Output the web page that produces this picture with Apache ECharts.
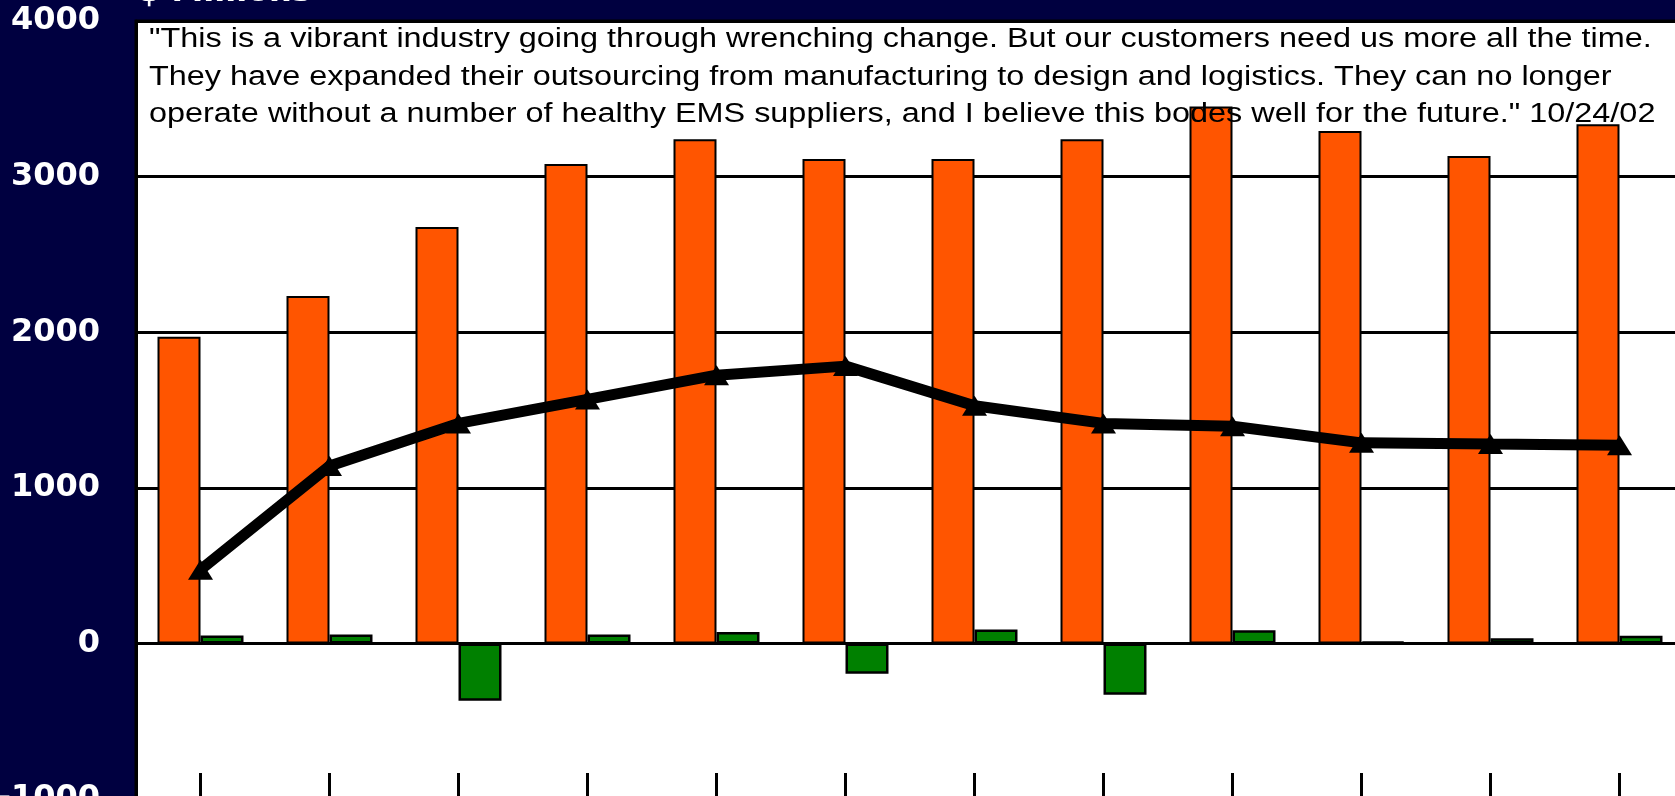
<!DOCTYPE html>
<html>
<head>
<meta charset="utf-8">
<script src="https://cdn.jsdelivr.net/npm/echarts@6/dist/echarts.min.js"></script>
<style>
html, body { margin: 0; padding: 0; background: #000040; }
#main { width: 1675px; height: 796px; }
</style>
</head>
<body>
<div id="main"></div>
<script>
// quarterly figures, $ Millions (category names are not shown on the chart)
var quarters = ['Q4 99', 'Q1 00', 'Q2 00', 'Q3 00', 'Q4 00', 'Q1 01', 'Q2 01', 'Q3 01', 'Q4 01', 'Q1 02', 'Q2 02', 'Q3 02'];
var revenue = [1970, 2233, 2676, 3081, 3240, 3113, 3113, 3240, 3450, 3293, 3132, 3336];
var netIncome = [51, 58, -368, 58, 73, -195, 90, -330, 84, 10, 33, 49];
var lineValues = [473, 1140, 1414, 1568, 1724, 1782, 1527, 1414, 1396, 1289, 1281, 1274];
var yTicks = [-1000, 0, 1000, 2000, 3000, 4000];

var quoteLines = [
    '"This is a vibrant industry going through wrenching change. But our customers need us more all the time.',
    'They have expanded their outsourcing from manufacturing to design and logistics. They can no longer',
    'operate without a number of healthy EMS suppliers, and I believe this bodes well for the future." 10/24/02'
];

var myChart = echarts.init(document.getElementById('main'));

var option = {
    animation: false,
    backgroundColor: '#000040',
    grid: {
        show: true,
        left: 136,
        top: 21,
        width: 1548,
        height: 778,
        outerBoundsMode: 'none',
        containLabel: false,
        backgroundColor: '#ffffff',
        borderColor: '#000000',
        borderWidth: 3
    },
    xAxis: {
        type: 'category',
        data: quarters,
        axisLine: { show: false, onZero: false },
        axisTick: {
            show: true,
            inside: true,
            length: 26,
            alignWithLabel: true,
            lineStyle: { color: '#000', width: 3 }
        },
        axisLabel: { show: false }
    },
    yAxis: {
        type: 'value',
        min: yTicks[0],
        max: yTicks[yTicks.length - 1],
        interval: 1000,
        axisLine: { show: true, lineStyle: { color: '#000', width: 3 } },
        axisTick: { show: false },
        splitLine: { lineStyle: { color: '#000', width: 3 } },
        axisLabel: {
            color: '#ffffff',
            fontFamily: 'DejaVu Sans',
            fontWeight: 'bold',
            fontSize: 32,
            margin: 36,
            formatter: function (v) { return String(v); }
        }
    },
    series: [{
        type: 'bar',
        name: 'Revenue',
        data: revenue,
        barWidth: 43,
        barGap: '0%',
        itemStyle: { color: '#ff5500', borderColor: '#000', borderWidth: 2 }
    }, {
        type: 'bar',
        name: 'Net income',
        data: netIncome,
        barWidth: 43,
        barGap: '0%',
        itemStyle: { color: '#008000', borderColor: '#000', borderWidth: 2.5 }
    }, {
        type: 'line',
        name: 'Line',
        data: lineValues,
        z: 5,
        symbol: 'triangle',
        symbolSize: [25, 20],
        itemStyle: { color: '#000' },
        lineStyle: { color: '#000', width: 11 }
    }],
    graphic: [{
        type: 'text',
        x: 138,
        y: -7,
        z: 10,
        style: {
            text: '$ Millions',
            font: 'bold 32px "DejaVu Sans"',
            fill: '#ffffff',
            verticalAlign: 'middle'
        }
    }, {
        type: 'text',
        x: 149,
        y: 21,
        z: 10,
        scaleX: 1.2,
        style: {
            text: quoteLines.join('\n'),
            font: '27px "Liberation Sans", Arial',
            lineHeight: 37.5,
            fill: '#000000',
            verticalAlign: 'top'
        }
    }]
};

myChart.setOption(option);
</script>
</body>
</html>
